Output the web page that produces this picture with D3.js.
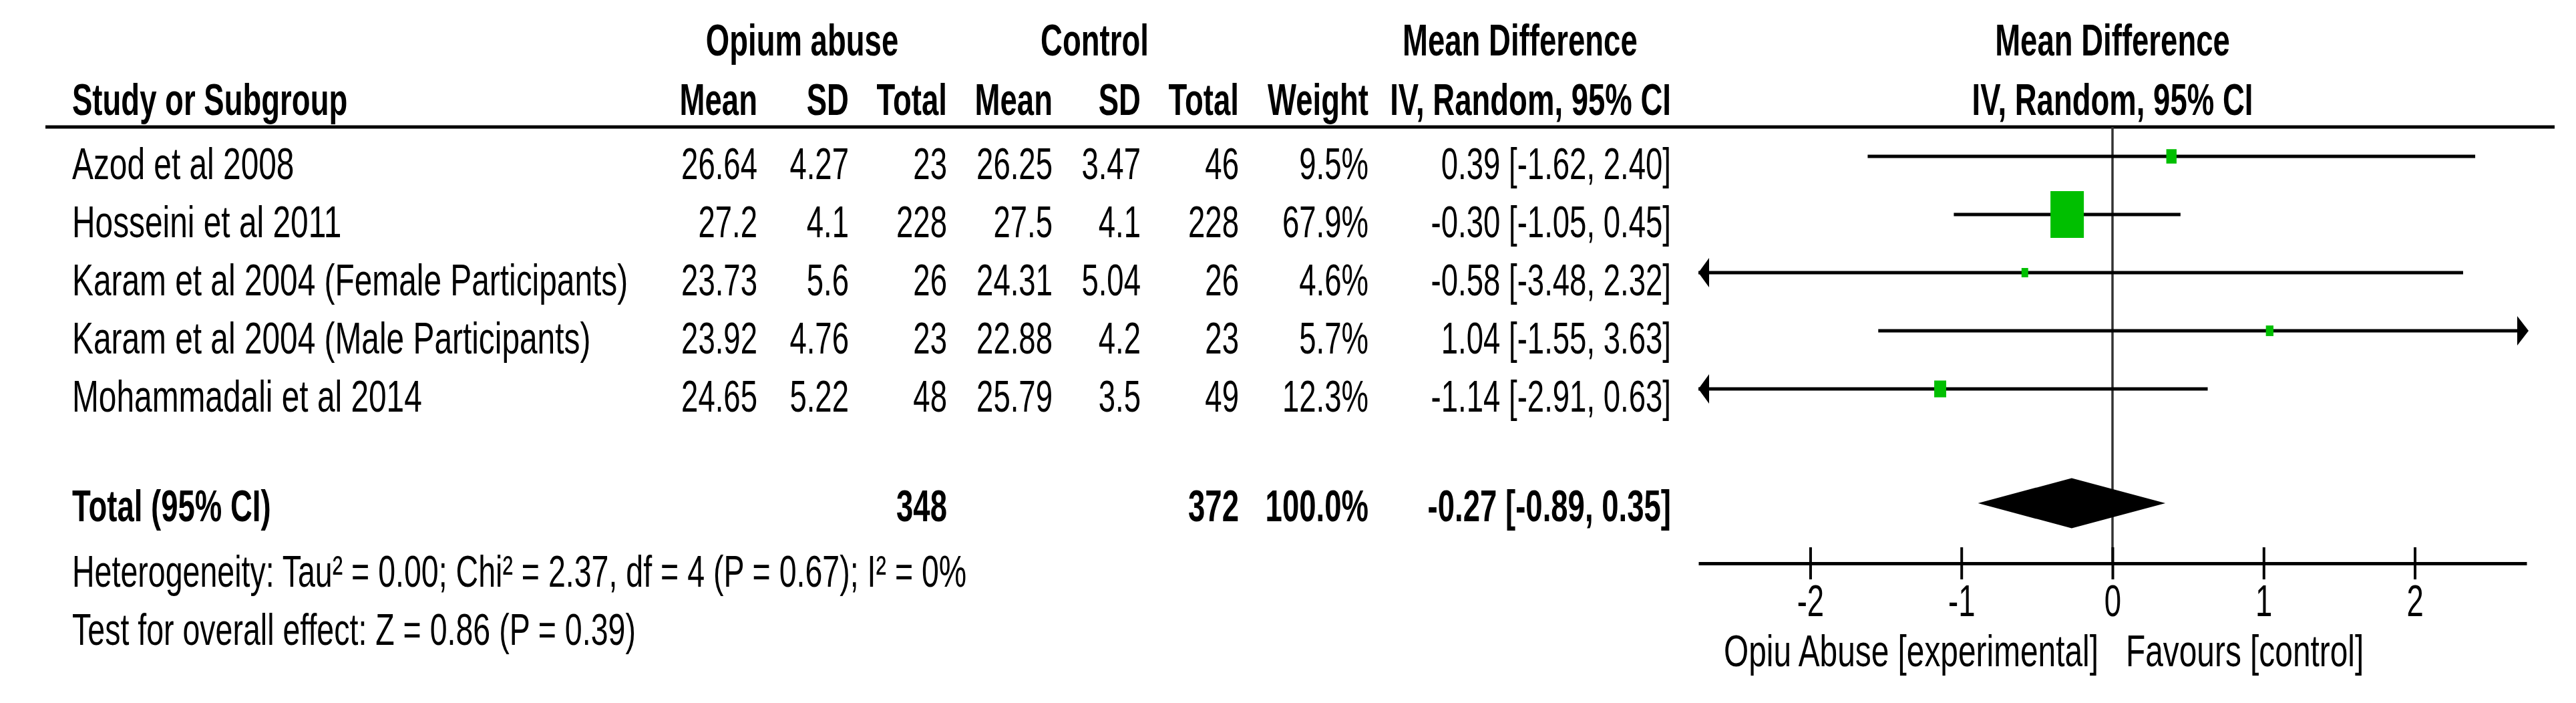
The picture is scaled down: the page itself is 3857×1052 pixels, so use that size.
<!DOCTYPE html>
<html>
<head>
<meta charset="utf-8">
<script src="https://cdn.jsdelivr.net/npm/d3@7"></script>
<style>
  html, body { margin: 0; padding: 0; background: #fff; }
  svg { display: block; }
  text { font-family: "Liberation Sans", Arial, sans-serif; font-size: 66px; fill: #000; }
</style>
</head>
<body>
<svg id="chart" width="3857" height="1052"></svg>
<script>
// ---------------- data ----------------
const studies = [
  "Azod et al 2008",
  "Hosseini et al 2011",
  "Karam et al 2004 (Female Participants)",
  "Karam et al 2004 (Male Participants)",
  "Mohammadali et al 2014"
];
const expMean = [26.64, 27.2, 23.73, 23.92, 24.65];
const expSD   = [4.27, 4.1, 5.6, 4.76, 5.22];
const expN    = [23, 228, 26, 23, 48];
const ctlMean = [26.25, 27.5, 24.31, 22.88, 25.79];
const ctlSD   = [3.47, 4.1, 5.04, 4.2, 3.5];
const ctlN    = [46, 228, 26, 23, 49];
const weights = [9.5, 67.9, 4.6, 5.7, 12.3];
const md      = [0.39, -0.30, -0.58, 1.04, -1.14];
const ciLow   = [-1.62, -1.05, -3.48, -1.55, -2.91];
const ciHigh  = [2.40, 0.45, 2.32, 3.63, 0.63];

const totalLabel = "Total (95% CI)";
const totalExpN = 348;
const totalCtlN = 372;
const totalWeight = 100.0;
const totalMD = -0.27;
const totalLow = -0.89;
const totalHigh = 0.35;

const heterogeneityText = "Heterogeneity: Tau\u00B2 = 0.00; Chi\u00B2 = 2.37, df = 4 (P = 0.67); I\u00B2 = 0%";
const overallText = "Test for overall effect: Z = 0.86 (P = 0.39)";
const leftFavour = "Opiu Abuse [experimental]";
const rightFavour = "Favours [control]";
const axisTicks = [-2, -1, 0, 1, 2];
const axisDomain = [-2.74, 2.74];

// ---------------- layout ----------------
const SX = 0.69;      // horizontal text compression seen in the picture
const SX_WORDS = 0.725;
const SX_NOTE = 0.705;
const svg = d3.select("#chart");
svg.append("rect").attr("width", 3857).attr("height", 1052).attr("fill", "#fff");

const x = d3.scaleLinear().domain(axisDomain).range([2543, 3783]);
const y = d3.scalePoint().domain(studies).range([234, 582]);
const hScale = d3.scalePow().exponent(0.6).domain([0, d3.max(weights)]).range([0, 70]);
const wScale = d3.scalePow().exponent(0.6).domain([0, d3.max(weights)]).range([0, 50]);

function label(x0, y0, s, anchor = "start", bold = false, sx = SX) {
  svg.append("text")
    .attr("transform", `translate(${x0},${y0}) scale(${sx},1)`)
    .attr("text-anchor", anchor)
    .attr("font-weight", bold ? "bold" : "normal")
    .text(s);
}

const col = { name: 108, eMean: 1134, eSD: 1271, eN: 1418, cMean: 1576, cSD: 1708, cN: 1855, w: 2049, ci: 2502 };

// headers
label(1201, 83, "Opium abuse", "middle", true);
label(1639, 83, "Control", "middle", true);
label(2100, 83, "Mean Difference", "start", true);
label(x(0), 83, "Mean Difference", "middle", true);

label(col.name, 172, "Study or Subgroup", "start", true);
label(col.eMean, 172, "Mean", "end", true);
label(col.eSD, 172, "SD", "end", true);
label(col.eN, 172, "Total", "end", true);
label(col.cMean, 172, "Mean", "end", true);
label(col.cSD, 172, "SD", "end", true);
label(col.cN, 172, "Total", "end", true);
label(col.w, 172, "Weight", "end", true);
label(col.ci, 172, "IV, Random, 95% CI", "end", true);
label(x(0), 172, "IV, Random, 95% CI", "middle", true);

// header rule
svg.append("line").attr("x1", 68).attr("x2", 3825).attr("y1", 190).attr("y2", 190)
  .attr("stroke", "#000").attr("stroke-width", 5);

// zero line
svg.append("line").attr("x1", x(0)).attr("x2", x(0)).attr("y1", 190).attr("y2", 843)
  .attr("stroke", "#333").attr("stroke-width", 3.5);

const fmt2 = v => v.toFixed(2);
const fmtCI = (m, lo, hi) => `${fmt2(m)} [${fmt2(lo)}, ${fmt2(hi)}]`;

// study rows
studies.forEach((s, i) => {
  const yb = y(s) + 34;
  label(col.name, yb, s, "start", false, SX_WORDS);
  label(col.eMean, yb, String(expMean[i]), "end");
  label(col.eSD, yb, String(expSD[i]), "end");
  label(col.eN, yb, String(expN[i]), "end");
  label(col.cMean, yb, String(ctlMean[i]), "end");
  label(col.cSD, yb, String(ctlSD[i]), "end");
  label(col.cN, yb, String(ctlN[i]), "end");
  label(col.w, yb, weights[i].toFixed(1) + "%", "end");
  label(col.ci, yb, fmtCI(md[i], ciLow[i], ciHigh[i]), "end");
});

// CI lines with arrows when clipped
const [dMin, dMax] = axisDomain;
const marks = svg.append("g");
studies.forEach((s, i) => {
  const yc = y(s);
  const lo = Math.max(ciLow[i], dMin), hi = Math.min(ciHigh[i], dMax);
  marks.append("line").attr("x1", x(lo)).attr("x2", x(hi)).attr("y1", yc).attr("y2", yc)
    .attr("stroke", "#000").attr("stroke-width", 5);
  if (ciLow[i] < dMin) {
    const t = x(dMin);
    marks.append("path").attr("d", `M${t},${yc} L${t + 16},${yc - 22} L${t + 16},${yc + 22} Z`).attr("fill", "#000");
  }
  if (ciHigh[i] > dMax) {
    const t = x(dMax) + 3;
    marks.append("path").attr("d", `M${t},${yc} L${t - 17},${yc - 22} L${t - 17},${yc + 22} Z`).attr("fill", "#000");
  }
  const w = wScale(weights[i]), h = hScale(weights[i]);
  marks.append("rect").attr("x", x(md[i]) - w / 2).attr("y", yc - h / 2)
    .attr("width", w).attr("height", h).attr("fill", "#00BF00");
});

// total row
const totalY = 753;
label(col.name, 780, totalLabel, "start", true);
label(col.eN, 780, String(totalExpN), "end", true);
label(col.cN, 780, String(totalCtlN), "end", true);
label(col.w, 780, totalWeight.toFixed(1) + "%", "end", true);
label(col.ci, 780, fmtCI(totalMD, totalLow, totalHigh), "end", true);

svg.append("path")
  .attr("d", d3.line()([[x(totalLow), totalY], [x(totalMD), totalY - 37.5], [x(totalHigh), totalY], [x(totalMD), totalY + 37.5]]) + "Z")
  .attr("fill", "#000");

label(col.name, 878, heterogeneityText, "start", false, SX_NOTE);
label(col.name, 965, overallText, "start", false, SX_NOTE);

// axis
const axisG = svg.append("g").attr("transform", "translate(0,843)")
  .call(d3.axisBottom(x).tickValues(axisTicks).tickSizeOuter(0).tickFormat(d => String(d)));
axisG.select(".domain").attr("stroke", "#000").attr("stroke-width", 5);
axisG.selectAll(".tick line").attr("y1", -24).attr("y2", 24).attr("stroke", "#000").attr("stroke-width", 4);
axisG.selectAll(".tick text")
  .attr("y", null).attr("dy", null)
  .attr("transform", `translate(0,79) scale(${SX},1)`)
  .attr("fill", "#000")
  .style("font-family", "'Liberation Sans', Arial, sans-serif")
  .style("font-size", "66px");
axisG.attr("font-family", null).attr("font-size", null);

label(x(0) - 21, 997, leftFavour, "end", false, SX_WORDS);
label(x(0) + 20, 997, rightFavour, "start", false, SX_WORDS);
</script>
</body>
</html>
